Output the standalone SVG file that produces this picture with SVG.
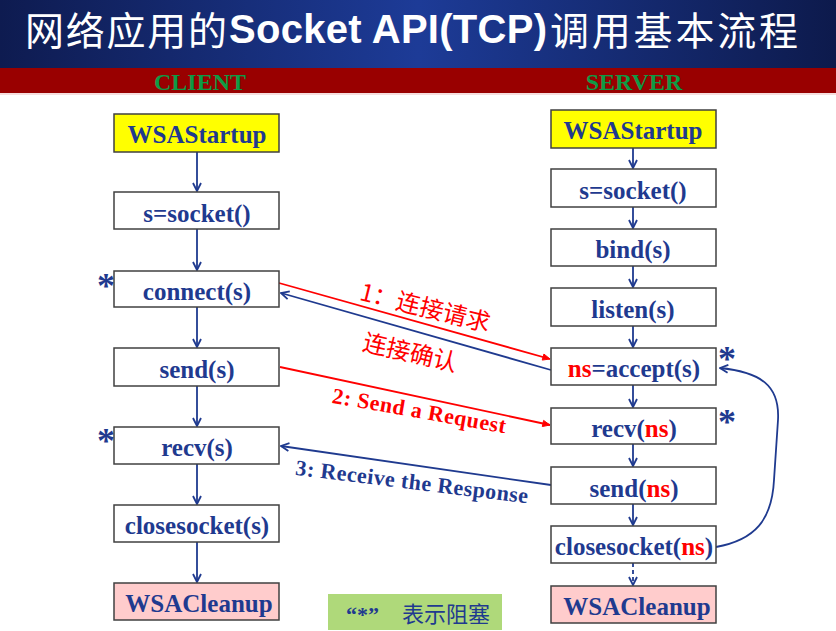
<svg xmlns="http://www.w3.org/2000/svg" width="836" height="631" viewBox="0 0 836 631">
<defs>
<linearGradient id="tg" x1="0" y1="0" x2="1" y2="0">
<stop offset="0" stop-color="#0e1b50"/>
<stop offset="0.5" stop-color="#1d3b97"/>
<stop offset="1" stop-color="#0d1a4c"/>
</linearGradient>
<marker id="ab" viewBox="0 0 10 10" refX="9" refY="5" markerWidth="10" markerHeight="10" orient="auto" markerUnits="userSpaceOnUse">
<path d="M1,1 L9,5 L1,9" fill="none" stroke="#1f3a8f" stroke-width="1.8"/>
</marker>
<marker id="ar" viewBox="0 0 10 10" refX="9" refY="5" markerWidth="9" markerHeight="9" orient="auto" markerUnits="userSpaceOnUse">
<path d="M1,1.5 L9,5 L1,8.5 Z" fill="#ff0000" stroke="#ff0000" stroke-width="1"/>
</marker>
</defs>
<style>
.box{fill:#ffffff;stroke:#404040;stroke-width:1.5}
.yel{fill:#ffff00}
.pink{fill:#ffcccc}
.t{font-family:"Liberation Serif",serif;font-weight:bold;font-size:25px;fill:#1f3a8f;text-anchor:middle}
.r{fill:#ff0000}
.star{font-family:"Liberation Serif",serif;font-weight:bold;font-size:36px;fill:#1f3a8f;text-anchor:middle}
.bl{stroke:#1f3a8f;stroke-width:1.8;fill:none}
.rd{stroke:#ff0000;stroke-width:1.8;fill:none}
.cn{font-family:"Noto Sans CJK SC",sans-serif;font-size:24px;fill:#ff0000;text-anchor:middle}
.lab{font-family:"Liberation Serif",serif;font-weight:bold;font-size:22px;text-anchor:middle}
.hd{font-family:"Liberation Serif",serif;font-weight:bold;font-size:24px;fill:#0f9a45;text-anchor:middle}
.ti{font-family:"Noto Sans CJK SC",sans-serif;font-size:39px;fill:#ffffff}
.tl{font-family:"Liberation Sans",sans-serif;font-weight:bold;font-size:40px;fill:#ffffff}
</style>
<rect x="0" y="0" width="836" height="68" fill="url(#tg)"/>
<rect x="0" y="68" width="836" height="25" fill="#990000"/>
<rect x="0" y="93" width="836" height="2" fill="#f6dede"/>
<text class="ti" x="25" y="45" textLength="202" lengthAdjust="spacing">网络应用的</text>
<text class="tl" x="229" y="43" textLength="318" lengthAdjust="spacing">Socket API(TCP)</text>
<text class="ti" x="550" y="45" textLength="248" lengthAdjust="spacing">调用基本流程</text>
<text class="hd" x="200" y="90">CLIENT</text>
<text class="hd" x="634" y="90">SERVER</text>

<g id="connectors">
<path class="bl" marker-end="url(#ab)" d="M197,152 V191"/>
<path class="bl" marker-end="url(#ab)" d="M197,229 V270"/>
<path class="bl" marker-end="url(#ab)" d="M197,307 V347"/>
<path class="bl" marker-end="url(#ab)" d="M197,386 V426"/>
<path class="bl" marker-end="url(#ab)" d="M197,464 V504"/>
<path class="bl" marker-end="url(#ab)" d="M197,542 V582"/>
<path class="bl" marker-end="url(#ab)" d="M633,148 V168"/>
<path class="bl" marker-end="url(#ab)" d="M633,207 V228"/>
<path class="bl" marker-end="url(#ab)" d="M633,266 V287"/>
<path class="bl" marker-end="url(#ab)" d="M633,326 V347"/>
<path class="bl" marker-end="url(#ab)" d="M633,385 V407"/>
<path class="bl" marker-end="url(#ab)" d="M633,444 V466"/>
<path class="bl" marker-end="url(#ab)" d="M633,504 V525"/>
<path class="bl" marker-end="url(#ab)" stroke-dasharray="4,3" d="M633,563 V585"/>
<path class="bl" marker-end="url(#ab)" d="M716,547 C755,540 772,520 774,480 L778,420 C780,385 760,372 720,368"/>
<path class="rd" marker-end="url(#ar)" d="M279,283 L550,359"/>
<path class="bl" marker-end="url(#ab)" d="M551,370 L281,293"/>
<path class="rd" marker-end="url(#ar)" d="M280,367 L550,425"/>
<path class="bl" marker-end="url(#ab)" d="M551,485 L281,446"/>
<text class="cn" transform="translate(425,308) rotate(14)" y="8">1：连接请求</text>
<text class="cn" transform="translate(410,353) rotate(13)" y="8">连接确认</text>
<text class="lab" fill="#ff0000" transform="translate(418,418) rotate(10)" textLength="176" lengthAdjust="spacing">2: Send a Request</text>
<text class="lab" fill="#1f3a8f" transform="translate(411,489) rotate(7)" textLength="234" lengthAdjust="spacing">3: Receive the Response</text>
</g>

<g id="c-startup"><rect class="box yel" x="114" y="114" width="165" height="38"/><text class="t" x="197" y="143">WSAStartup</text></g>
<g id="c-socket"><rect class="box" x="114" y="192" width="165" height="37"/><text class="t" x="197" y="222">s=socket()</text></g>
<g id="c-connect"><rect class="box" x="114" y="271" width="165" height="36"/><text class="t" x="197" y="300">connect(s)</text><text class="star" x="106" y="298">*</text></g>
<g id="c-send"><rect class="box" x="114" y="348" width="165" height="38"/><text class="t" x="197" y="378">send(s)</text></g>
<g id="c-recv"><rect class="box" x="114" y="427" width="165" height="37"/><text class="t" x="197" y="456">recv(s)</text><text class="star" x="106" y="453">*</text></g>
<g id="c-close"><rect class="box" x="114" y="505" width="165" height="37"/><text class="t" x="197" y="534">closesocket(s)</text></g>
<g id="c-cleanup"><rect class="box pink" x="114" y="583" width="165" height="37"/><text class="t" x="199" y="612">WSACleanup</text></g>

<g id="s-startup"><rect class="box yel" x="551" y="110" width="165" height="38"/><text class="t" x="633" y="139">WSAStartup</text></g>
<g id="s-socket"><rect class="box" x="551" y="169" width="165" height="38"/><text class="t" x="633" y="199">s=socket()</text></g>
<g id="s-bind"><rect class="box" x="551" y="229" width="165" height="37"/><text class="t" x="633" y="258">bind(s)</text></g>
<g id="s-listen"><rect class="box" x="551" y="288" width="165" height="38"/><text class="t" x="633" y="318">listen(s)</text></g>
<g id="s-accept"><rect class="box" x="551" y="348" width="165" height="37"/><text class="t" x="634" y="377"><tspan class="r">ns</tspan>=accept(s)</text><text class="star" x="727" y="371">*</text></g>
<g id="s-recv"><rect class="box" x="551" y="408" width="165" height="36"/><text class="t" x="634" y="437">recv(<tspan class="r">ns</tspan>)</text><text class="star" x="727" y="434">*</text></g>
<g id="s-send"><rect class="box" x="551" y="467" width="165" height="37"/><text class="t" x="634" y="497">send(<tspan class="r">ns</tspan>)</text></g>
<g id="s-close"><rect class="box" x="551" y="526" width="165" height="37"/><text class="t" x="634" y="555">closesocket(<tspan class="r">ns</tspan>)</text></g>
<g id="s-cleanup"><rect class="box pink" x="551" y="586" width="165" height="37"/><text class="t" x="637" y="615">WSACleanup</text></g>

<g id="legend"><rect x="328" y="594" width="174" height="36" fill="#afd97a"/><text x="346" y="622" font-family="Liberation Serif, serif" font-weight="bold" font-size="22" fill="#1f3a8f">“*”<tspan x="402" font-family="Noto Sans CJK SC, sans-serif" font-weight="normal" font-size="22">表示阻塞</tspan></text></g>
</svg>
